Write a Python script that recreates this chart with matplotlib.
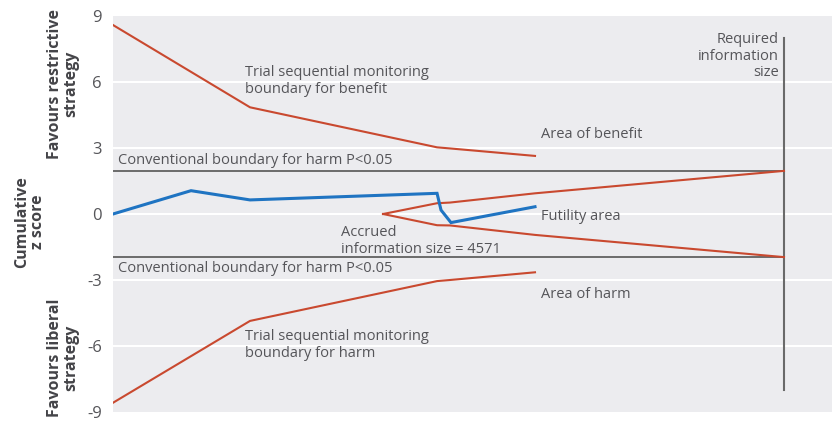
import matplotlib
matplotlib.use("Agg")
import matplotlib.pyplot as plt

# Data (x = cumulative number of participants, y = cumulative z score)
z_x = [0, 845, 1484, 3510, 3553, 3661, 4571]
z_y = [0, 1.06, 0.64, 0.94, 0.18, -0.39, 0.33]

tsm_x = [0, 1484, 3510, 3650, 4571]
tsm_benefit = [8.59, 4.85, 3.03, 2.98, 2.64]
tsm_harm = [-8.58, -4.86, -3.05, -3.00, -2.65]

fut_x = [2925, 3510, 3650, 4571, 7268]
fut_upper = [0, 0.49, 0.52, 0.94, 1.96]
fut_lower = [0, -0.51, -0.52, -0.95, -1.96]

conv_z = 1.96
required_info = 7268
accrued_info = 4571
yticks = [-9, -6, -3, 0, 3, 6, 9]

red = "#c9492f"
blue = "#1f74c2"
txt = "#555559"

plt.rcParams['font.family'] = ['Open Sans', 'DejaVu Sans']

fig = plt.figure(figsize=(8.32, 4.24), dpi=100)
ax = fig.add_axes([113/832, 12/424, 1 - 113/832, (412-16)/424])
ax.set_facecolor("#ececef")
for s in ax.spines.values():
    s.set_visible(False)

ax.set_xlim(0, 7788)
ax.set_ylim(-9, 9)
ax.set_yticks(yticks)
ax.set_yticklabels([str(t) for t in yticks], fontsize=12, color=txt)
ax.tick_params(axis='y', length=0, pad=8)
ax.set_xticks([])
for t in [-6, -3, 0, 3, 6]:
    ax.axhline(t, color="white", lw=1.5, zorder=1)

# Conventional boundaries
ax.plot([0, required_info], [conv_z, conv_z], color="#555555", lw=1.2, zorder=2)
ax.plot([0, required_info], [-conv_z, -conv_z], color="#555555", lw=1.2, zorder=2)
# Required information size line
ax.plot([required_info, required_info], [-8, 8], color="#6a6a6a", lw=1.5, zorder=2)

# TSM boundaries
ax.plot(tsm_x, tsm_benefit, color=red, lw=1.5, zorder=3)
ax.plot(tsm_x, tsm_harm, color=red, lw=1.5, zorder=3)
ax.plot(fut_x, fut_upper, color=red, lw=1.5, zorder=3)
ax.plot(fut_x, fut_lower, color=red, lw=1.5, zorder=3)

# Cumulative z curve
ax.plot(z_x, z_y, color=blue, lw=2.2, zorder=4, solid_joinstyle='miter')

fs = 10.5
ls = 1.15
def px2x(px):
    return (px - 113) * accrued_info / 422
def py2y(py):
    return (214 - py) / 22

ax.text(px2x(245), py2y(81), "Trial sequential monitoring\nboundary for benefit",
        fontsize=fs, color=txt, va='center', ha='left', linespacing=ls)
ax.text(px2x(245), py2y(345), "Trial sequential monitoring\nboundary for harm",
        fontsize=fs, color=txt, va='center', ha='left', linespacing=ls)
ax.text(px2x(541), py2y(134), "Area of benefit", fontsize=fs, color=txt, va='center', ha='left')
ax.text(px2x(541), py2y(216), "Futility area", fontsize=fs, color=txt, va='center', ha='left')
ax.text(px2x(541), py2y(295), "Area of harm", fontsize=fs, color=txt, va='center', ha='left')
ax.text(px2x(118), py2y(160), "Conventional boundary for harm P<0.05", fontsize=fs, color=txt,
        va='center', ha='left')
ax.text(px2x(118), py2y(269), "Conventional boundary for harm P<0.05", fontsize=fs, color=txt,
        va='center', ha='left')
ax.text(px2x(341), py2y(241), "Accrued\ninformation size = %d" % accrued_info, fontsize=fs,
        color=txt, va='center', ha='left', linespacing=ls)
ax.text(px2x(779), py2y(56), "Required\ninformation\nsize", fontsize=fs, color=txt,
        va='center', ha='right', linespacing=ls)

# Rotated y-axis labels
lab = "#444448"
fig.text(63/832, 1 - 84/424, "Favours restrictive\nstrategy", rotation=90, fontsize=11.5,
         fontweight='bold', color=lab, ha='center', va='center', linespacing=1.0)
fig.text(30/832, 1 - 222/424, "Cumulative\nz score", rotation=90, fontsize=11.5,
         fontweight='bold', color=lab, ha='center', va='center', linespacing=1.0)
fig.text(63/832, 1 - 358/424, "Favours liberal\nstrategy", rotation=90, fontsize=11.5,
         fontweight='bold', color=lab, ha='center', va='center', linespacing=1.0)

fig.savefig("out.png", dpi=100, facecolor="white")
